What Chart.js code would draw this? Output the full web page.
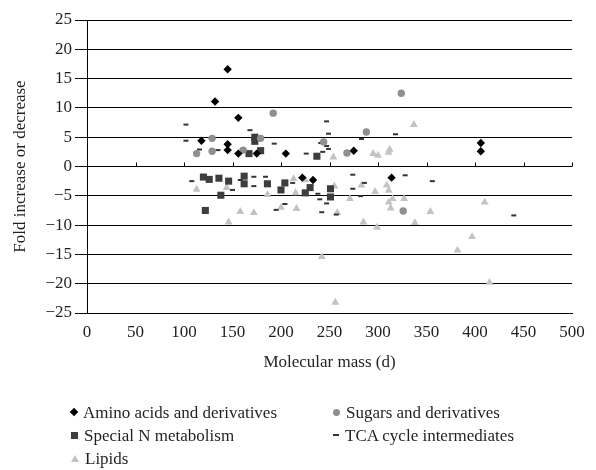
<!DOCTYPE html>
<html>
<head>
<meta charset="utf-8">
<script src="https://cdn.jsdelivr.net/npm/chart.js@4.4.1/dist/chart.umd.min.js"></script>
<style>
  body { margin: 0; background: #fff; }
  #wrap { position: relative; width: 596px; height: 470px; }
  .leg { position: absolute; font: 17px "Liberation Serif", "DejaVu Serif", serif; color: #231f20; white-space: nowrap; line-height: 18px; }
  .mk { display: inline-block; vertical-align: middle; margin-right: 6px; position: relative; top: -2px; }
  .diamond { width: 6px; height: 6px; background: #000; transform: rotate(45deg); }
  .circle { width: 7px; height: 7px; background: #8f8f8f; border-radius: 50%; }
  .square { width: 7px; height: 7px; background: #3d3d3d; }
  .dash { width: 6px; height: 2px; background: #333; }
  .tri { width: 0; height: 0; border-left: 4px solid transparent; border-right: 4px solid transparent; border-bottom: 7px solid #c3c3c3; }
</style>
</head>
<body>
<div id="wrap">
  <canvas id="chart" width="596" height="470"></canvas>
  <div class="leg" style="left:71px; top:404px"><span class="mk diamond"></span>Amino acids and derivatives</div>
  <div class="leg" style="left:333px; top:404px"><span class="mk circle"></span>Sugars and derivatives</div>
  <div class="leg" style="left:71px; top:427px"><span class="mk square"></span>Special N metabolism</div>
  <div class="leg" style="left:333px; top:427px"><span class="mk dash"></span>TCA cycle intermediates</div>
  <div class="leg" style="left:71px; top:450px"><span class="mk tri"></span>Lipids</div>
</div>
<script>
// x tick labels and y tick range
const xTicks = [0, 50, 100, 150, 200, 250, 300, 350, 400, 450, 500];
const yTicks = [-25, -20, -15, -10, -5, 0, 5, 10, 15, 20, 25];

// [molecular mass, fold change] per class
const aminoAcids = [
  [132, 11.1], [145, 16.6], [156, 8.3], [118, 4.4], [145, 3.8], [145, 2.8],
  [156, 2.2], [175, 2.2], [205, 2.2], [275, 2.7], [406, 4.0], [406, 2.6],
  [222, -1.9], [233, -2.3], [314, -1.9]
];
const sugars = [
  [129, 4.8], [113, 2.2], [129, 2.6], [192, 9.1], [179, 4.8], [161, 2.8],
  [244, 4.2], [268, 2.3], [288, 5.9], [324, 12.5], [326, -7.6]
];
const specialN = [
  [173, 5.0], [173, 4.3], [167, 2.2], [179, 2.7], [237, 1.75], [120, -1.8],
  [126, -2.2], [136, -2.0], [146, -2.5], [138, -4.9], [122, -7.5], [162, -1.65],
  [162, -2.95], [186, -2.95], [204, -2.8], [200, -4.0], [230, -3.6], [225, -4.5],
  [251, -3.8], [251, -5.2]
];
const tca = [
  [102, 7.15], [102, 4.4], [116, 2.9], [135, 2.8], [168, 6.2], [247, 7.7],
  [249, 5.6], [283, 4.7], [193, 3.9], [226, 2.2], [241, 4.0], [247, 3.5],
  [249, 3.0], [243, 2.5], [318, 5.5], [108, -2.5], [150, -4.0], [158, -2.3],
  [172, -1.75], [172, -3.35], [184, -1.75], [212, -2.8], [238, -4.65], [240, -5.6],
  [247, -6.3], [274, -1.4], [274, -3.8], [282, -5.05], [286, -2.8], [195, -7.4],
  [204, -6.4], [242, -7.8], [257, -8.2], [328, -1.5], [356, -2.5], [440, -8.35]
];
const lipids = [
  [254, 1.6], [337, 7.15], [295, 2.2], [300, 1.9], [311, 2.4], [312, 2.9],
  [113, -3.9], [144, -3.6], [146, -9.5], [186, -4.8], [213, -2.1], [215, -4.5],
  [225, -2.3], [255, -3.35], [271, -5.5], [283, -3.2], [158, -7.7], [172, -7.9],
  [200, -7.0], [216, -7.2], [258, -7.9], [285, -9.5], [297, -4.3], [309, -3.2],
  [311, -4.1], [315, -5.5], [327, -5.5], [311, -6.1], [313, -7.1], [354, -7.7],
  [410, -6.1], [299, -10.4], [338, -9.6], [397, -12.0], [382, -14.3], [242, -15.4],
  [256, -23.2], [415, -19.8]
];

const toPts = arr => arr.map(p => ({ x: p[0], y: p[1] }));
const serif = '"Liberation Serif", "DejaVu Serif", serif';
const minus = v => (v < 0 ? '\u2212' + Math.abs(v) : String(v));

// small upward tick marks on the zero line, like the original axis
const zeroTicks = {
  id: 'zeroTicks',
  afterDatasetsDraw(chart) {
    const { ctx, scales: { x, y } } = chart;
    const y0 = y.getPixelForValue(0);
    ctx.save();
    ctx.strokeStyle = '#000';
    ctx.lineWidth = 1;
    ctx.beginPath();
    xTicks.forEach(t => {
      const px = Math.round(x.getPixelForValue(t)) + 0.5;
      ctx.moveTo(px, y0);
      ctx.lineTo(px, y0 - 4);
    });
    ctx.stroke();
    ctx.restore();
  }
};

const ctx = document.getElementById('chart').getContext('2d');
new Chart(ctx, {
  type: 'scatter',
  data: {
    datasets: [
      { label: 'Amino acids and derivatives', data: toPts(aminoAcids), pointStyle: 'rectRot', radius: 4.2, backgroundColor: '#000', borderColor: '#000', borderWidth: 0 },
      { label: 'Sugars and derivatives', data: toPts(sugars), pointStyle: 'circle', radius: 3.7, backgroundColor: '#8f8f8f', borderColor: '#8f8f8f', borderWidth: 0 },
      { label: 'Special N metabolism', data: toPts(specialN), pointStyle: 'rect', radius: 5, backgroundColor: '#3d3d3d', borderColor: '#3d3d3d', borderWidth: 0 },
      { label: 'TCA cycle intermediates', data: toPts(tca), pointStyle: 'line', radius: 2.5, backgroundColor: '#333', borderColor: '#333', borderWidth: 2 },
      { label: 'Lipids', data: toPts(lipids), pointStyle: 'triangle', radius: 4.6, backgroundColor: '#c3c3c3', borderColor: '#c3c3c3', borderWidth: 0 }
    ]
  },
  options: {
    responsive: false,
    animation: false,
    layout: { padding: { top: 20, right: 24, left: 0, bottom: 97 } },
    plugins: { legend: { display: false }, tooltip: { enabled: false } },
    scales: {
      x: {
        type: 'linear', min: 0, max: 500,
        afterBuildTicks: s => { s.ticks = xTicks.map(v => ({ value: v })); },
        afterFit: s => { s.height = 60; },
        grid: { display: false, drawTicks: false },
        border: { display: true, color: '#000', width: 1 },
        ticks: { color: '#231f20', padding: 9, maxRotation: 0, font: { family: serif, size: 17 } },
        title: { display: true, text: 'Molecular mass (d)', color: '#231f20', padding: { top: 4, bottom: 0 }, font: { family: serif, size: 17 } }
      },
      y: {
        type: 'linear', min: -25, max: 25,
        afterBuildTicks: s => { s.ticks = yTicks.map(v => ({ value: v })); },
        afterFit: s => { s.width = 87; },
        grid: { color: '#000', lineWidth: 1, drawTicks: true, tickLength: 12, tickColor: '#000' },
        border: { display: true, color: '#000', width: 1 },
        ticks: { color: '#231f20', padding: 3, callback: v => minus(v), font: { family: serif, size: 17 } },
        title: { display: true, text: 'Fold increase or decrease', color: '#231f20', padding: { top: 10, bottom: 0 }, font: { family: serif, size: 17 } }
      }
    }
  },
  plugins: [zeroTicks]
});
</script>
</body>
</html>
